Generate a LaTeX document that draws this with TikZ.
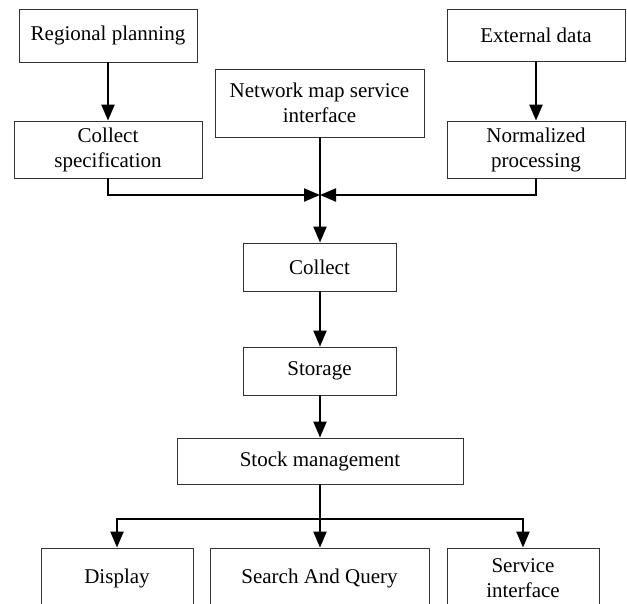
\documentclass[tikz,border=0pt]{standalone}
\usepackage{fontspec}
\setmainfont{Liberation Serif}
\usetikzlibrary{arrows.meta}
\begin{document}
\begin{tikzpicture}[x=1pt,y=-1pt,
  box/.style={draw=black!80, line width=0.9pt, inner sep=0pt, align=center,
    font=\fontsize{21}{25}\selectfont},
  arr/.style={line width=2.2pt, -{Triangle[length=16pt,width=13pt]}},
  conn/.style={line width=2.2pt}]
\useasboundingbox (0,0) rectangle (627,603);
\clip (0,0) rectangle (627,603);
\fill[white] (0,0) rectangle (627,603);
% nodes
\node[box, minimum width=178pt, minimum height=53pt] (rp) at (108,35.5) {Regional planning};
\node[box, minimum width=188pt, minimum height=57pt] (cs) at (108,149.5) {Collect\\specification};
\node[box, minimum width=209pt, minimum height=68pt] (nm) at (319.5,103) {Network map service\\interface};
\node[box, minimum width=178pt, minimum height=52pt] (ed) at (536,35) {External data};
\node[box, minimum width=178pt, minimum height=57pt] (np) at (536,149.5) {Normalized\\processing};
\node[box, minimum width=153pt, minimum height=48pt] (col) at (319.5,267) {Collect};
\node[box, minimum width=153pt, minimum height=48pt] (sto) at (319.5,371) {Storage};
\node[box, minimum width=286pt, minimum height=46pt] (stk) at (320,461) {Stock management};
\node[box, minimum width=152pt, minimum height=60pt] (dis) at (117,578) {Display};
\node[box, minimum width=219pt, minimum height=60pt] (sq) at (319.5,578) {Search And Query};
\node[box, minimum width=152pt, minimum height=60pt] (si) at (523,578) {Service\\interface};
% junctions
\coordinate (J) at (320,195);
\coordinate (B) at (320,519);
% connectors
\draw[arr] (rp.south) -- (cs.north);
\draw[arr] (ed.south) -- (np.north);
\draw[arr] (cs.south) |- (J);
\draw[arr] (np.south) |- (J);
\draw[arr] (nm.south -| J) -- (col.north -| J);
\draw[arr] (col.south -| J) -- (sto.north -| J);
\draw[arr] (sto.south -| J) -- (stk.north -| J);
\draw[arr] (stk.south -| B) -- (sq.north -| B);
\draw[arr] (B) -| (dis.north);
\draw[arr] (B) -| (si.north);
\end{tikzpicture}
\end{document}
